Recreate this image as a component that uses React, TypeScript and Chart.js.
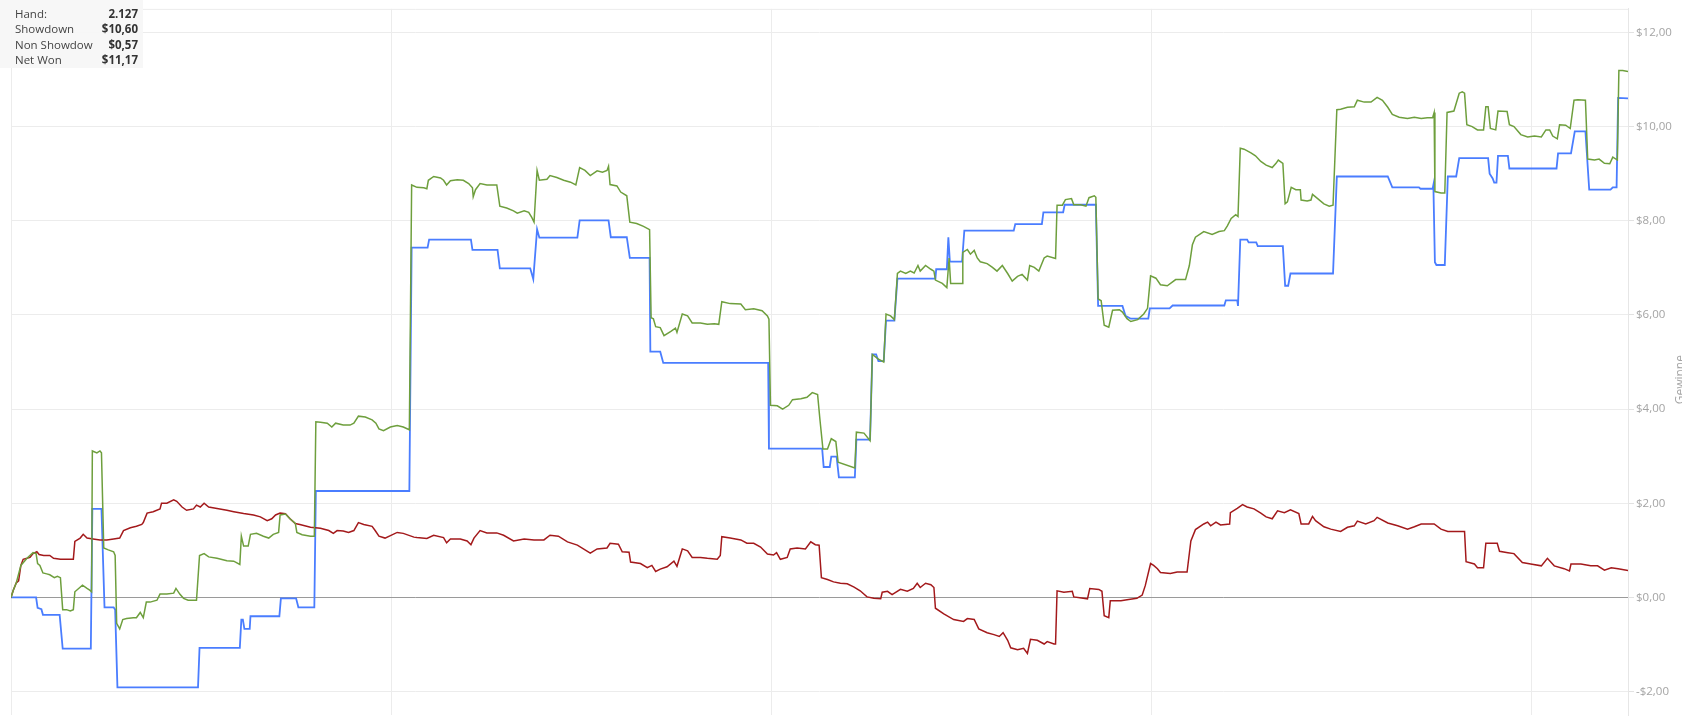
import React, { useEffect, useRef } from 'react';
import { Chart, registerables } from 'chart.js';

Chart.register(...registerables);

// ---------- data ----------
const handCount = 2127;
const xTickValues = [0, 500, 1000, 1500, 2000];
const yTickValues = [-2, 0, 2, 4, 6, 8, 10, 12];
const yMin = -2.5;
const yMax = 12.5;
const axisTitle = 'Gewinne';

const summaryLabels = ['Hand:', 'Showdown', 'Non Showdow', 'Net Won'];
const summaryValues = ['2.127', '$10,60', '$0,57', '$11,17'];

// [hand, dollars]
const showdownPoints: [number, number][] = [
  [0, 0], [33, 0], [35, -0.22], [40, -0.25], [42, -0.37], [64, -0.37], [68, -1.09], [105, -1.09],
  [107, 1.88], [119, 1.88], [123, -0.21], [135, -0.21], [137, -0.26], [140, -1.91], [246, -1.91],
  [248, -1.07], [301, -1.07], [303, -0.47], [305, -0.47], [307, -0.67], [314, -0.67], [315, -0.4],
  [353, -0.4], [355, -0.02], [375, -0.02], [378, -0.21], [399, -0.21], [401, 2.26], [524, 2.26],
  [527, 7.43], [548, 7.43], [550, 7.6], [605, 7.6], [607, 7.38], [640, 7.38], [643, 6.99], [683, 6.99],
  [687, 6.76], [692, 7.82], [695, 7.64], [745, 7.64], [748, 8.01], [786, 8.01], [789, 7.65], [810, 7.65],
  [814, 7.21], [840, 7.21], [841, 5.22], [854, 5.22], [858, 4.98], [996, 4.98], [997, 3.16], [1067, 3.16],
  [1069, 2.77], [1077, 2.77], [1079, 2.99], [1086, 2.99], [1089, 2.55], [1110, 2.55], [1112, 3.35],
  [1130, 3.35], [1133, 5.16], [1138, 5.16], [1141, 5.02], [1148, 5.02], [1151, 5.88], [1162, 5.88],
  [1166, 6.77], [1216, 6.77], [1217, 6.97], [1231, 6.97], [1233, 7.65], [1235, 7.13], [1251, 7.13],
  [1254, 7.79], [1319, 7.79], [1321, 7.93], [1356, 7.93], [1358, 8.18], [1384, 8.18], [1386, 8.34],
  [1427, 8.34], [1430, 6.19], [1462, 6.19], [1466, 5.98], [1473, 5.92], [1496, 5.92], [1498, 6.14],
  [1524, 6.14], [1528, 6.2], [1596, 6.2], [1598, 6.31], [1613, 6.31], [1614, 6.19], [1617, 7.6],
  [1626, 7.6], [1628, 7.54], [1638, 7.54], [1640, 7.46], [1673, 7.46], [1676, 6.62], [1680, 6.62],
  [1683, 6.88], [1739, 6.88], [1744, 8.94], [1811, 8.94], [1817, 8.71], [1852, 8.71], [1854, 8.68],
  [1870, 8.68], [1871, 8.76], [1873, 7.12], [1875, 7.06], [1886, 7.06], [1890, 8.94], [1901, 8.94],
  [1905, 9.33], [1943, 9.33], [1945, 9.0], [1949, 8.9], [1951, 8.81], [1954, 8.81], [1956, 9.38],
  [1969, 9.38], [1971, 9.11], [2033, 9.11], [2035, 9.43], [2052, 9.43], [2057, 9.9], [2071, 9.9],
  [2076, 8.66], [2104, 8.66], [2107, 8.71], [2112, 8.71], [2114, 10.61], [2127, 10.6],
];

const nonShowdownPoints: [number, number][] = [
  [0, 0], [3, 0.15], [7, 0.31], [10, 0.35], [13, 0.68], [16, 0.81], [21, 0.83], [25, 0.85], [29, 0.93],
  [34, 0.97], [37, 0.91], [43, 0.89], [51, 0.89], [56, 0.83], [65, 0.81], [73, 0.81], [82, 0.81],
  [84, 1.19], [91, 1.26], [95, 1.34], [100, 1.26], [108, 1.24], [117, 1.22], [126, 1.22], [135, 1.24],
  [143, 1.26], [148, 1.42], [157, 1.48], [165, 1.51], [172, 1.55], [174, 1.59], [179, 1.79], [187, 1.82],
  [196, 1.88], [198, 2.0], [205, 2.0], [214, 2.07], [218, 2.04], [225, 1.92], [231, 1.85], [240, 1.88],
  [244, 1.96], [249, 1.92], [254, 2.0], [260, 1.92], [271, 1.89], [284, 1.85], [293, 1.82], [306, 1.78],
  [319, 1.75], [328, 1.71], [337, 1.63], [343, 1.67], [348, 1.75], [354, 1.79], [361, 1.78], [367, 1.67],
  [374, 1.57], [380, 1.55], [394, 1.49], [407, 1.47], [418, 1.42], [424, 1.36], [429, 1.42], [437, 1.41],
  [444, 1.38], [451, 1.42], [457, 1.59], [464, 1.55], [475, 1.51], [479, 1.42], [484, 1.3], [492, 1.26],
  [508, 1.38], [516, 1.36], [530, 1.28], [534, 1.27], [547, 1.25], [556, 1.32], [569, 1.27], [573, 1.16],
  [578, 1.24], [591, 1.24], [600, 1.2], [605, 1.12], [609, 1.26], [617, 1.42], [626, 1.37], [639, 1.37],
  [648, 1.32], [661, 1.2], [675, 1.24], [688, 1.22], [701, 1.22], [709, 1.32], [720, 1.3], [732, 1.18],
  [745, 1.11], [762, 0.94], [771, 1.03], [784, 1.05], [788, 1.15], [799, 1.13], [804, 0.97], [813, 0.96],
  [815, 0.75], [828, 0.72], [837, 0.63], [843, 0.68], [848, 0.55], [854, 0.6], [863, 0.65], [872, 0.77],
  [876, 0.66], [883, 1.03], [890, 0.99], [896, 0.85], [907, 0.85], [916, 0.83], [929, 0.81], [933, 0.89],
  [935, 1.29], [946, 1.26], [960, 1.22], [968, 1.15], [977, 1.15], [986, 1.07], [995, 0.92], [1003, 0.9],
  [1007, 0.95], [1012, 0.81], [1021, 0.85], [1025, 1.03], [1034, 1.05], [1045, 1.03], [1052, 1.18],
  [1058, 1.12], [1063, 1.11], [1066, 0.42], [1074, 0.38], [1082, 0.33], [1091, 0.3], [1100, 0.29],
  [1109, 0.22], [1117, 0.14], [1126, 0.01], [1135, -0.02], [1144, -0.03], [1146, 0.11], [1153, 0.13],
  [1159, 0.06], [1170, 0.17], [1179, 0.13], [1187, 0.19], [1192, 0.3], [1196, 0.21], [1203, 0.3],
  [1210, 0.27], [1214, 0.21], [1216, -0.23], [1227, -0.35], [1240, -0.47], [1253, -0.51], [1258, -0.45],
  [1267, -0.47], [1273, -0.67], [1284, -0.75], [1293, -0.79], [1300, -0.83], [1305, -0.75], [1311, -0.91],
  [1315, -1.07], [1324, -1.11], [1332, -1.08], [1337, -1.19], [1341, -0.89], [1350, -0.91], [1359, -0.99],
  [1363, -0.94], [1372, -0.99], [1374, -0.99], [1376, 0.14], [1385, 0.11], [1396, 0.13], [1398, 0.01],
  [1416, -0.03], [1419, 0.19], [1431, 0.17], [1435, 0.13], [1438, -0.39], [1444, -0.43], [1446, -0.07],
  [1460, -0.07], [1468, -0.05], [1481, -0.02], [1488, 0.05], [1492, 0.25], [1499, 0.72], [1503, 0.68],
  [1508, 0.61], [1512, 0.53], [1525, 0.51], [1534, 0.54], [1547, 0.54], [1552, 1.2], [1558, 1.44],
  [1569, 1.56], [1574, 1.6], [1578, 1.52], [1585, 1.6], [1591, 1.54], [1603, 1.56], [1604, 1.8],
  [1613, 1.89], [1620, 1.97], [1626, 1.92], [1635, 1.88], [1644, 1.79], [1651, 1.71], [1659, 1.67],
  [1666, 1.84], [1675, 1.8], [1683, 1.86], [1694, 1.78], [1697, 1.56], [1707, 1.56], [1712, 1.72],
  [1716, 1.63], [1727, 1.5], [1736, 1.45], [1749, 1.4], [1758, 1.49], [1767, 1.52], [1771, 1.62],
  [1782, 1.56], [1793, 1.63], [1797, 1.7], [1811, 1.58], [1824, 1.52], [1837, 1.45], [1846, 1.5],
  [1855, 1.56], [1872, 1.56], [1881, 1.45], [1890, 1.4], [1912, 1.4], [1914, 0.76], [1925, 0.71],
  [1929, 0.63], [1937, 0.63], [1940, 1.15], [1955, 1.15], [1958, 0.98], [1969, 0.95], [1977, 0.93],
  [1988, 0.74], [1999, 0.71], [2013, 0.67], [2021, 0.83], [2030, 0.67], [2043, 0.61], [2050, 0.56],
  [2052, 0.71], [2065, 0.71], [2078, 0.67], [2087, 0.67], [2096, 0.58], [2105, 0.63], [2114, 0.61],
  [2127, 0.57],
];

const netWonPoints: [number, number][] = [
  [0, 0], [3, 0.15], [7, 0.31], [13, 0.68], [21, 0.83], [29, 0.95], [33, 0.93], [35, 0.72], [38, 0.68],
  [42, 0.52], [47, 0.5], [51, 0.48], [57, 0.42], [61, 0.45], [65, 0.42], [68, -0.26], [73, -0.26],
  [78, -0.29], [82, -0.26], [84, 0.12], [89, 0.19], [94, 0.26], [100, 0.19], [104, 0.15], [106, 0.12],
  [107, 3.11], [113, 3.07], [117, 3.11], [119, 3.07], [122, 1.05], [128, 1.01], [135, 0.97], [137, 0.89],
  [139, -0.55], [143, -0.67], [147, -0.47], [152, -0.45], [161, -0.43], [165, -0.43], [170, -0.32],
  [174, -0.43], [178, -0.1], [183, -0.1], [192, -0.06], [196, 0.07], [205, 0.07], [214, 0.09], [217, 0.19],
  [222, 0.07], [227, -0.02], [233, -0.06], [244, -0.06], [248, 0.89], [254, 0.93], [260, 0.86], [271, 0.83],
  [284, 0.78], [293, 0.77], [301, 0.7], [303, 1.3], [306, 1.09], [312, 1.09], [315, 1.34], [323, 1.36],
  [332, 1.3], [339, 1.26], [345, 1.34], [352, 1.38], [354, 1.75], [361, 1.77], [367, 1.67], [374, 1.57],
  [376, 1.38], [383, 1.33], [394, 1.3], [399, 1.3], [401, 3.73], [407, 3.72], [416, 3.7], [422, 3.62],
  [427, 3.7], [437, 3.66], [446, 3.66], [451, 3.7], [457, 3.85], [466, 3.83], [475, 3.77], [480, 3.7],
  [484, 3.58], [490, 3.54], [499, 3.62], [508, 3.65], [516, 3.62], [524, 3.56], [527, 8.76], [534, 8.71],
  [543, 8.7], [547, 8.68], [549, 8.86], [556, 8.94], [565, 8.91], [569, 8.86], [573, 8.76], [578, 8.85],
  [587, 8.87], [595, 8.86], [602, 8.79], [607, 8.7], [608, 8.51], [611, 8.66], [617, 8.79], [626, 8.76],
  [639, 8.76], [643, 8.31], [652, 8.27], [661, 8.21], [666, 8.16], [675, 8.21], [681, 8.18], [685, 8.07],
  [688, 7.97], [692, 9.07], [695, 8.86], [705, 8.88], [709, 8.96], [718, 8.92], [727, 8.86], [736, 8.82],
  [743, 8.76], [748, 9.13], [755, 9.07], [762, 8.96], [771, 9.06], [778, 9.03], [784, 9.07], [786, 9.16],
  [788, 8.77], [797, 8.74], [802, 8.61], [810, 8.53], [814, 7.97], [823, 7.94], [832, 7.88], [840, 7.81],
  [842, 5.94], [845, 5.92], [848, 5.75], [854, 5.73], [859, 5.56], [868, 5.65], [874, 5.72], [876, 5.63],
  [883, 6.02], [890, 5.98], [896, 5.83], [907, 5.83], [916, 5.8], [925, 5.81], [931, 5.8], [935, 6.28],
  [946, 6.24], [960, 6.23], [966, 6.11], [977, 6.13], [988, 6.09], [995, 5.98], [997, 5.91], [999, 4.08],
  [1008, 4.07], [1015, 4.0], [1023, 4.08], [1028, 4.2], [1039, 4.22], [1047, 4.25], [1054, 4.35],
  [1061, 4.31], [1064, 3.79], [1068, 3.15], [1074, 3.15], [1079, 3.37], [1085, 3.31], [1088, 2.87],
  [1110, 2.75], [1112, 3.51], [1122, 3.49], [1130, 3.33], [1133, 5.16], [1141, 5.06], [1148, 5.0],
  [1151, 6.02], [1157, 5.98], [1162, 5.9], [1166, 6.88], [1170, 6.93], [1177, 6.88], [1183, 6.93],
  [1188, 6.89], [1193, 7.05], [1196, 6.93], [1203, 7.05], [1210, 6.97], [1214, 6.93], [1216, 6.74],
  [1225, 6.67], [1231, 6.58], [1234, 7.21], [1236, 6.67], [1251, 6.67], [1252, 7.33], [1258, 7.39],
  [1262, 7.29], [1267, 7.37], [1271, 7.21], [1275, 7.13], [1284, 7.09], [1291, 7.01], [1297, 6.93],
  [1304, 7.05], [1311, 6.88], [1317, 6.72], [1324, 6.82], [1330, 6.86], [1337, 6.74], [1340, 7.05],
  [1346, 7.01], [1352, 6.93], [1359, 7.21], [1363, 7.25], [1374, 7.2], [1376, 8.33], [1383, 8.33],
  [1387, 8.45], [1395, 8.47], [1398, 8.34], [1407, 8.34], [1414, 8.31], [1418, 8.49], [1425, 8.53],
  [1427, 8.5], [1430, 6.34], [1434, 6.3], [1438, 5.78], [1444, 5.74], [1449, 6.1], [1458, 6.11],
  [1462, 6.06], [1468, 5.92], [1473, 5.86], [1482, 5.9], [1490, 6.02], [1495, 6.14], [1499, 6.83],
  [1506, 6.78], [1512, 6.64], [1521, 6.62], [1532, 6.75], [1545, 6.75], [1550, 7.05], [1554, 7.49],
  [1558, 7.65], [1569, 7.77], [1580, 7.71], [1589, 7.77], [1596, 7.79], [1600, 7.89], [1605, 8.05],
  [1611, 8.13], [1614, 8.09], [1617, 9.54], [1622, 9.52], [1631, 9.44], [1637, 9.38], [1644, 9.26],
  [1651, 9.18], [1659, 9.13], [1664, 9.22], [1667, 9.29], [1673, 9.22], [1676, 8.36], [1679, 8.4],
  [1684, 8.71], [1690, 8.66], [1696, 8.66], [1697, 8.44], [1705, 8.42], [1710, 8.44], [1712, 8.56],
  [1718, 8.48], [1727, 8.36], [1734, 8.31], [1739, 8.33], [1744, 10.36], [1749, 10.37], [1758, 10.41],
  [1767, 10.42], [1771, 10.56], [1780, 10.52], [1789, 10.52], [1797, 10.62], [1804, 10.56], [1811, 10.41],
  [1817, 10.26], [1826, 10.2], [1837, 10.17], [1846, 10.2], [1855, 10.17], [1863, 10.19], [1870, 10.19],
  [1872, 10.3], [1873, 8.62], [1881, 8.59], [1886, 8.59], [1889, 10.3], [1898, 10.33], [1905, 10.71],
  [1909, 10.74], [1912, 10.71], [1915, 10.04], [1922, 10.0], [1929, 9.93], [1937, 9.93], [1940, 10.42],
  [1943, 10.42], [1946, 9.96], [1953, 9.93], [1956, 10.33], [1968, 10.32], [1971, 10.04], [1977, 10.0],
  [1986, 9.83], [1995, 9.78], [2004, 9.8], [2013, 9.78], [2019, 9.93], [2024, 9.93], [2028, 9.8],
  [2034, 9.74], [2037, 10.04], [2045, 10.03], [2051, 9.96], [2056, 10.56], [2061, 10.57], [2071, 10.56],
  [2074, 9.31], [2083, 9.29], [2089, 9.31], [2096, 9.22], [2103, 9.21], [2107, 9.35], [2113, 9.29],
  [2115, 11.19], [2120, 11.19], [2127, 11.17],
];

// ---------- helpers ----------
const FONT = "'Open Sans', 'Noto Sans', sans-serif";
const toXY = (pts: [number, number][]) => pts.map(([x, y]) => ({ x, y }));
const formatMoney = (v: number) =>
  (v < 0 ? '-' : '') + '$' + Math.abs(v).toFixed(2).replace('.', ',');

const overlayPlugin = {
  id: 'overlayDecor',
  beforeDatasetsDraw(chart: any) {
    const { ctx, chartArea } = chart;
    ctx.save();
    ctx.strokeStyle = '#ececec';
    ctx.lineWidth = 1;
    ctx.beginPath();
    ctx.moveTo(chartArea.left, chartArea.top + 0.5);
    ctx.lineTo(chartArea.right, chartArea.top + 0.5);
    ctx.stroke();
    ctx.restore();
  },
  afterDraw(chart: any) {
    const { ctx, chartArea } = chart;
    ctx.save();
    ctx.fillStyle = '#a4a4a4';
    ctx.font = `12px ${FONT}`;
    ctx.translate(chart.width - 7, chartArea.top + (chartArea.bottom - chartArea.top) * 0.525);
    ctx.rotate(-Math.PI / 2);
    ctx.textAlign = 'center';
    ctx.textBaseline = 'top';
    ctx.fillText(axisTitle, 0, 0);
    ctx.restore();
  },
};

export default function App() {
  const canvasRef = useRef<HTMLCanvasElement | null>(null);

  useEffect(() => {
    if (!canvasRef.current) return;
    const chart = new Chart(canvasRef.current, {
      type: 'line',
      data: {
        datasets: [
          {
            label: 'Net Won',
            data: toXY(netWonPoints),
            borderColor: '#6e9f3d',
            borderWidth: 1.5,
            pointRadius: 0,
            tension: 0,
            fill: false,
          },
          {
            label: 'Non Showdown',
            data: toXY(nonShowdownPoints),
            borderColor: '#a3191b',
            borderWidth: 1.5,
            pointRadius: 0,
            tension: 0,
            fill: false,
          },
          {
            label: 'Showdown',
            data: toXY(showdownPoints),
            borderColor: '#4a7dff',
            borderWidth: 1.8,
            pointRadius: 0,
            tension: 0,
            fill: false,
          },
        ],
      },
      options: {
        animation: false,
        responsive: false,
        maintainAspectRatio: false,
        events: [],
        layout: { padding: { left: 11, top: 3, right: 0, bottom: 1 } },
        plugins: {
          legend: { display: false },
          tooltip: { enabled: false },
          title: { display: false },
        },
        scales: {
          x: {
            type: 'linear',
            min: 0,
            max: handCount,
            afterBuildTicks: (axis: any) => {
              axis.ticks = xTickValues.map((v) => ({ value: v }));
            },
            ticks: { display: false },
            grid: { color: '#ececec', lineWidth: 1, drawTicks: false },
            border: { display: false },
          },
          y: {
            type: 'linear',
            position: 'right',
            min: yMin,
            max: yMax,
            afterBuildTicks: (axis: any) => {
              axis.ticks = yTickValues.map((v) => ({ value: v }));
            },
            afterFit: (axis: any) => {
              axis.width = 54;
            },
            ticks: {
              color: '#a4a4a4',
              font: { family: FONT, size: 11.5 },
              padding: 2,
              callback: (v: any) => formatMoney(Number(v)),
            },
            grid: {
              color: (c: any) => (c.tick && c.tick.value === 0 ? '#9a9a9a' : '#ececec'),
              tickColor: '#e2e2e2',
              tickLength: 6,
              lineWidth: 1,
            },
            border: { color: '#e6e6e6' },
          },
        },
      },
      plugins: [overlayPlugin],
    });
    return () => chart.destroy();
  }, []);

  return (
    <div style={{ position: 'absolute', left: 0, top: 0, width: 1682, height: 724, overflow: 'hidden', background: '#fff' }}>
      <canvas ref={canvasRef} width={1682} height={724} style={{ width: 1682, height: 724, display: 'block' }} />
      <div
        style={{
          position: 'absolute',
          left: 0,
          top: 0,
          width: 143,
          height: 68,
          boxSizing: 'border-box',
          paddingTop: 5.5,
          background: 'rgba(247,247,247,0.95)',
          fontFamily: FONT,
          fontSize: 11.5,
          color: '#444',
        }}
      >
        {summaryLabels.map((label, i) => (
          <div
            key={label}
            style={{
              display: 'flex',
              justifyContent: 'space-between',
              height: 15.6,
              lineHeight: '15.6px',
              paddingLeft: 15,
              paddingRight: 5,
              whiteSpace: 'nowrap',
            }}
          >
            <span>{label}</span>
            <span style={{ fontWeight: 700, color: '#333' }}>{summaryValues[i]}</span>
          </div>
        ))}
      </div>
    </div>
  );
}
